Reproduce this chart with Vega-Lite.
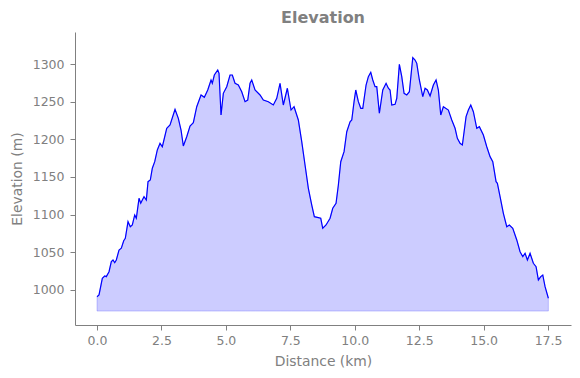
{
  "$schema": "https://vega.github.io/schema/vega-lite/v6.json",
  "width": 496,
  "height": 293,
  "autosize": "none",
  "padding": {"left": 75, "top": 32, "right": 9, "bottom": 53},
  "background": "white",
  "title": {"text": "Elevation", "font": "DejaVu Sans", "fontSize": 16, "fontWeight": "bold", "color": "#808080", "anchor": "middle", "offset": 6},
  "config": {
    "view": {"stroke": null},
    "axis": {
      "grid": false,
      "domainColor": "#808080",
      "tickColor": "#808080",
      "labelColor": "#808080",
      "titleColor": "#808080",
      "labelFont": "DejaVu Sans",
      "titleFont": "DejaVu Sans",
      "labelFontSize": 12.5,
      "titleFontSize": 13.9,
      "titleFontWeight": "normal",
      "tickSize": 5,
      "domainWidth": 1,
      "tickWidth": 1
    }
  },
  "data": {"values": [
    {"d": 0.000, "e": 991.1}, {"d": 0.078, "e": 993.4}, {"d": 0.206, "e": 1015.5}, {"d": 0.299, "e": 1018.6},
    {"d": 0.361, "e": 1017.7}, {"d": 0.466, "e": 1024.3}, {"d": 0.555, "e": 1037.6}, {"d": 0.621, "e": 1039.8},
    {"d": 0.687, "e": 1036.2}, {"d": 0.749, "e": 1039.8}, {"d": 0.854, "e": 1053.1}, {"d": 0.943, "e": 1055.4},
    {"d": 1.036, "e": 1065.4}, {"d": 1.098, "e": 1068.6}, {"d": 1.203, "e": 1090.7}, {"d": 1.292, "e": 1084.0},
    {"d": 1.370, "e": 1086.3}, {"d": 1.463, "e": 1099.6}, {"d": 1.525, "e": 1095.2}, {"d": 1.630, "e": 1121.7},
    {"d": 1.696, "e": 1115.1}, {"d": 1.758, "e": 1119.5}, {"d": 1.824, "e": 1123.9}, {"d": 1.913, "e": 1119.5},
    {"d": 1.979, "e": 1143.8}, {"d": 2.068, "e": 1146.0}, {"d": 2.146, "e": 1161.6}, {"d": 2.239, "e": 1170.3},
    {"d": 2.340, "e": 1185.9}, {"d": 2.445, "e": 1194.7}, {"d": 2.534, "e": 1190.2}, {"d": 2.705, "e": 1214.7},
    {"d": 2.833, "e": 1219.0}, {"d": 3.027, "e": 1239.9}, {"d": 3.155, "e": 1227.9}, {"d": 3.260, "e": 1212.4},
    {"d": 3.349, "e": 1191.2}, {"d": 3.481, "e": 1203.5}, {"d": 3.609, "e": 1217.7}, {"d": 3.737, "e": 1222.1},
    {"d": 3.869, "e": 1243.3}, {"d": 4.036, "e": 1258.9}, {"d": 4.164, "e": 1255.8}, {"d": 4.296, "e": 1265.5},
    {"d": 4.424, "e": 1278.8}, {"d": 4.474, "e": 1274.4}, {"d": 4.552, "e": 1285.4}, {"d": 4.684, "e": 1292.1},
    {"d": 4.734, "e": 1287.7}, {"d": 4.812, "e": 1232.3}, {"d": 4.901, "e": 1261.1}, {"d": 5.033, "e": 1269.9},
    {"d": 5.161, "e": 1285.4}, {"d": 5.250, "e": 1285.4}, {"d": 5.355, "e": 1274.4}, {"d": 5.483, "e": 1272.1},
    {"d": 5.615, "e": 1263.2}, {"d": 5.743, "e": 1250.0}, {"d": 5.848, "e": 1252.2}, {"d": 5.937, "e": 1274.4},
    {"d": 6.003, "e": 1278.8}, {"d": 6.131, "e": 1265.5}, {"d": 6.325, "e": 1258.9}, {"d": 6.453, "e": 1252.2},
    {"d": 6.647, "e": 1250.0}, {"d": 6.841, "e": 1245.6}, {"d": 6.973, "e": 1254.5}, {"d": 7.101, "e": 1274.4},
    {"d": 7.229, "e": 1245.6}, {"d": 7.385, "e": 1267.8}, {"d": 7.528, "e": 1238.9}, {"d": 7.645, "e": 1243.3},
    {"d": 7.811, "e": 1225.7}, {"d": 7.943, "e": 1196.9}, {"d": 8.071, "e": 1165.9}, {"d": 8.200, "e": 1135.0},
    {"d": 8.332, "e": 1112.8}, {"d": 8.432, "e": 1097.3}, {"d": 8.588, "e": 1096.0}, {"d": 8.681, "e": 1095.2},
    {"d": 8.758, "e": 1081.9}, {"d": 8.886, "e": 1086.3}, {"d": 9.042, "e": 1095.2}, {"d": 9.146, "e": 1108.5},
    {"d": 9.274, "e": 1115.1}, {"d": 9.364, "e": 1139.4}, {"d": 9.457, "e": 1170.3}, {"d": 9.585, "e": 1183.6},
    {"d": 9.690, "e": 1210.1}, {"d": 9.818, "e": 1223.4}, {"d": 9.884, "e": 1225.7}, {"d": 9.973, "e": 1250.0},
    {"d": 10.039, "e": 1265.5}, {"d": 10.140, "e": 1250.0}, {"d": 10.233, "e": 1241.2}, {"d": 10.311, "e": 1241.2},
    {"d": 10.439, "e": 1272.1}, {"d": 10.528, "e": 1283.2}, {"d": 10.621, "e": 1289.0}, {"d": 10.699, "e": 1278.8},
    {"d": 10.788, "e": 1269.9}, {"d": 10.854, "e": 1269.9}, {"d": 10.955, "e": 1234.6}, {"d": 11.087, "e": 1265.5},
    {"d": 11.215, "e": 1274.4}, {"d": 11.304, "e": 1267.8}, {"d": 11.370, "e": 1265.5}, {"d": 11.436, "e": 1245.6},
    {"d": 11.564, "e": 1246.5}, {"d": 11.630, "e": 1254.5}, {"d": 11.731, "e": 1299.6}, {"d": 11.824, "e": 1283.2},
    {"d": 11.913, "e": 1261.1}, {"d": 12.018, "e": 1258.9}, {"d": 12.119, "e": 1263.2}, {"d": 12.251, "e": 1308.6},
    {"d": 12.340, "e": 1305.3}, {"d": 12.406, "e": 1300.9}, {"d": 12.507, "e": 1278.8}, {"d": 12.639, "e": 1256.6},
    {"d": 12.728, "e": 1267.8}, {"d": 12.817, "e": 1265.5}, {"d": 12.922, "e": 1257.5}, {"d": 13.050, "e": 1272.1},
    {"d": 13.155, "e": 1278.8}, {"d": 13.244, "e": 1265.5}, {"d": 13.337, "e": 1232.3}, {"d": 13.438, "e": 1243.3},
    {"d": 13.632, "e": 1238.9}, {"d": 13.764, "e": 1225.7}, {"d": 13.892, "e": 1214.7}, {"d": 13.981, "e": 1201.4},
    {"d": 14.086, "e": 1194.7}, {"d": 14.175, "e": 1192.5}, {"d": 14.319, "e": 1230.1}, {"d": 14.408, "e": 1238.9},
    {"d": 14.501, "e": 1245.6}, {"d": 14.602, "e": 1236.7}, {"d": 14.734, "e": 1214.7}, {"d": 14.835, "e": 1216.8},
    {"d": 14.990, "e": 1205.8}, {"d": 15.122, "e": 1190.2}, {"d": 15.250, "e": 1177.0}, {"d": 15.355, "e": 1170.3},
    {"d": 15.483, "e": 1143.8}, {"d": 15.534, "e": 1141.6}, {"d": 15.638, "e": 1123.9}, {"d": 15.766, "e": 1101.8},
    {"d": 15.898, "e": 1084.0}, {"d": 15.999, "e": 1086.3}, {"d": 16.131, "e": 1081.9}, {"d": 16.286, "e": 1066.4},
    {"d": 16.414, "e": 1050.8}, {"d": 16.519, "e": 1044.2}, {"d": 16.608, "e": 1048.7}, {"d": 16.698, "e": 1039.8},
    {"d": 16.802, "e": 1048.7}, {"d": 16.930, "e": 1035.4}, {"d": 17.035, "e": 1030.9}, {"d": 17.124, "e": 1013.3},
    {"d": 17.217, "e": 1017.7}, {"d": 17.295, "e": 1019.9}, {"d": 17.384, "e": 1004.4}, {"d": 17.512, "e": 989.0}
  ]},
  "encoding": {
    "x": {"field": "d", "type": "quantitative", "title": "Distance (km)",
      "scale": {"domain": [-0.854, 18.39], "nice": false, "zero": false},
      "axis": {"values": [0, 2.5, 5, 7.5, 10, 12.5, 15, 17.5], "format": ".1f", "labelPadding": 4, "titlePadding": 8}},
    "y": {"field": "e", "type": "quantitative", "title": "Elevation (m)",
      "scale": {"domain": [953.5, 1342.5], "nice": false, "zero": false},
      "axis": {"values": [1000, 1050, 1100, 1150, 1200, 1250, 1300], "format": "d", "labelPadding": 6, "titlePadding": 8}}
  },
  "layer": [
    {"mark": {"type": "area", "color": "#0000ff", "fillOpacity": 0.2, "stroke": "#0000ff", "strokeOpacity": 0.2, "strokeWidth": 1},
     "encoding": {"y2": {"datum": 972}}},
    {"mark": {"type": "line", "color": "#0000ff", "strokeWidth": 1.2}}
  ]
}
